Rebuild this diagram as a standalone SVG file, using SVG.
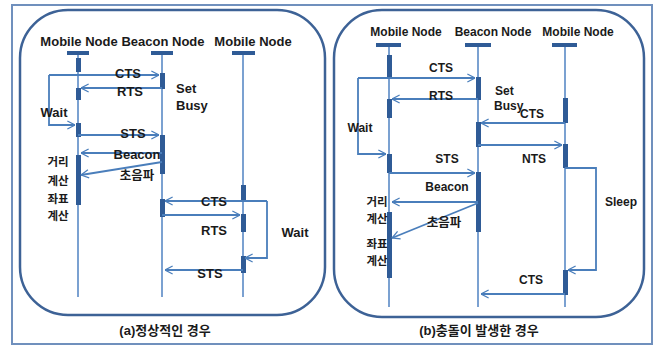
<svg xmlns="http://www.w3.org/2000/svg" width="659" height="347" viewBox="0 0 659 347">
<defs>
<marker id="ah" viewBox="0 0 10 10" refX="9.5" refY="5" markerWidth="9" markerHeight="10" markerUnits="userSpaceOnUse" orient="auto">
<path d="M1,0.5 L9.5,5 L1,9.5" fill="none" stroke="#4a7ebb" stroke-width="1.4"/>
</marker>
<style>
.frame{fill:#fff;stroke:#7090bd;stroke-width:2}
.panel{fill:none;stroke:#3d6296;stroke-width:2.5}
.life{stroke:#5a8ac6;stroke-width:1.6;fill:none}
.head{fill:#2f5b96}
.act{fill:#2f5b96}
.conn{stroke:#4a7ebb;stroke-width:1.8;fill:none;marker-end:url(#ah)}
.t{font-family:"Liberation Sans","Noto Sans CJK KR",sans-serif;font-weight:bold;font-size:13px;fill:#1a1a1a}
.ts{font-family:"Liberation Sans","Noto Sans CJK KR",sans-serif;font-weight:bold;font-size:12px;fill:#1a1a1a}
.k{font-family:"Noto Sans CJK KR",sans-serif;font-weight:bold;font-size:11.5px;fill:#1a1a1a}
.k2{font-family:"Noto Sans CJK KR",sans-serif;font-weight:bold;font-size:12.5px;fill:#1a1a1a}
.m{text-anchor:middle}
</style>
</defs>
<rect class="frame" x="12" y="5" width="640" height="339"/>
<rect class="panel" x="20" y="10" width="305" height="305" rx="48"/>
<rect class="panel" x="334" y="10" width="310" height="307" rx="48"/>

<!-- Left panel nodes -->
<g id="a-mobile1">
<text class="t m" x="79" y="46">Mobile Node</text>
<rect class="head" x="67" y="51" width="22" height="4"/>
<line class="life" x1="78" y1="55" x2="78" y2="297"/>
<rect class="act" x="76" y="58" width="5" height="14"/>
<rect class="act" x="76" y="88" width="5" height="12"/>
<rect class="act" x="76" y="123" width="5" height="14"/>
<rect class="act" x="76" y="155" width="5" height="50"/>
</g>
<g id="a-beacon">
<text class="t m" x="163" y="46">Beacon Node</text>
<rect class="head" x="151" y="51" width="22" height="4"/>
<line class="life" x1="162" y1="55" x2="162" y2="297"/>
<rect class="act" x="160" y="73" width="5" height="16"/>
<rect class="act" x="160" y="135" width="5" height="39"/>
<rect class="act" x="160" y="199" width="5" height="18"/>
</g>
<g id="a-mobile2">
<text class="t m" x="253" y="46">Mobile Node</text>
<rect class="head" x="232" y="51" width="23" height="4"/>
<line class="life" x1="243" y1="55" x2="243" y2="297"/>
<rect class="act" x="241" y="185" width="5" height="17"/>
<rect class="act" x="241" y="214" width="5" height="18"/>
<rect class="act" x="241" y="256" width="5" height="17"/>
</g>

<!-- Right panel nodes -->
<g id="b-mobile1">
<text class="ts m" x="406" y="36">Mobile Node</text>
<rect class="head" x="376" y="43" width="25" height="4"/>
<line class="life" x1="389" y1="47" x2="389" y2="307"/>
<rect class="act" x="387" y="55" width="5" height="22"/>
<rect class="act" x="387" y="99" width="5" height="19"/>
<rect class="act" x="387" y="154" width="5" height="19"/>
<rect class="act" x="387" y="212" width="5" height="66"/>
</g>
<g id="b-beacon">
<text class="ts m" x="493" y="36">Beacon Node</text>
<rect class="head" x="465" y="43" width="26" height="4"/>
<line class="life" x1="478" y1="47" x2="478" y2="307"/>
<rect class="act" x="476" y="77" width="5" height="23"/>
<rect class="act" x="476" y="122" width="5" height="25"/>
<rect class="act" x="476" y="172" width="5" height="60"/>
</g>
<g id="b-mobile2">
<text class="ts m" x="578" y="36">Mobile Node</text>
<rect class="head" x="552" y="43" width="25" height="4"/>
<line class="life" x1="565" y1="47" x2="565" y2="307"/>
<rect class="act" x="563" y="98" width="5" height="25"/>
<rect class="act" x="563" y="144" width="5" height="24"/>
<rect class="act" x="563" y="270" width="5" height="25"/>
</g>

<g id="connectors">
<!-- left panel -->
<path class="conn" d="M49,75 H159"/>
<path class="conn" d="M49,75 V125 H75"/>
<path class="conn" d="M162,88 H81"/>
<path class="conn" d="M78,135 H159"/>
<path class="conn" d="M162,153 H81"/>
<path class="conn" d="M162,162 L81,175"/>
<path class="conn" d="M267,201 H165"/>
<path class="conn" d="M267,201 V258 H245"/>
<path class="conn" d="M162,215 H240"/>
<path class="conn" d="M243,270 H165"/>
<!-- right panel -->
<path class="conn" d="M358,78 H475"/>
<path class="conn" d="M358,78 V154 H386"/>
<path class="conn" d="M478,99 H392"/>
<path class="conn" d="M565,123 H481"/>
<path class="conn" d="M478,145 H562"/>
<path class="conn" d="M565,168 H596 V270 H568"/>
<path class="conn" d="M389,173 H475"/>
<path class="conn" d="M478,202 H392"/>
<path class="conn" d="M478,203 L392,238"/>
<path class="conn" d="M565,294 H481"/>
</g>

<g id="labels-a">
<text class="t m" x="128" y="78">CTS</text>
<text class="t m" x="130" y="96">RTS</text>
<text class="t" x="176" y="93">Set</text>
<text class="t" x="176" y="110">Busy</text>
<text class="t m" x="54" y="117">Wait</text>
<text class="t m" x="133" y="138">STS</text>
<text class="t m" x="137" y="159">Beacon</text>
<text class="k2 m" x="137" y="180">초음파</text>
<text class="k m" x="58" y="166">거리</text>
<text class="k m" x="58" y="185">계산</text>
<text class="k m" x="58" y="203">좌표</text>
<text class="k m" x="58" y="220">계산</text>
<text class="t m" x="214" y="206">CTS</text>
<text class="t m" x="214" y="235">RTS</text>
<text class="t m" x="295" y="237">Wait</text>
<text class="t m" x="210" y="278">STS</text>
<text class="t m" x="165" y="335">(a)정상적인 경우</text>
</g>
<g id="labels-b">
<text class="ts m" x="441" y="72">CTS</text>
<text class="ts m" x="441" y="100">RTS</text>
<text class="ts" x="495" y="95">Set</text>
<text class="ts" x="494" y="110">Busy</text>
<text class="ts m" x="532" y="118">CTS</text>
<text class="ts m" x="534" y="163">NTS</text>
<text class="ts m" x="360" y="132">Wait</text>
<text class="ts m" x="447" y="163">STS</text>
<text class="ts m" x="447" y="191">Beacon</text>
<text class="ts m" x="621" y="206">Sleep</text>
<text class="k m" x="377" y="206">거리</text>
<text class="k m" x="377" y="223">계산</text>
<text class="k2 m" x="444" y="227">초음파</text>
<text class="k m" x="377" y="248">좌표</text>
<text class="k m" x="377" y="265">계산</text>
<text class="ts m" x="531" y="284">CTS</text>
<text class="t m" x="479" y="335">(b)충돌이 발생한 경우</text>
</g>
</svg>
